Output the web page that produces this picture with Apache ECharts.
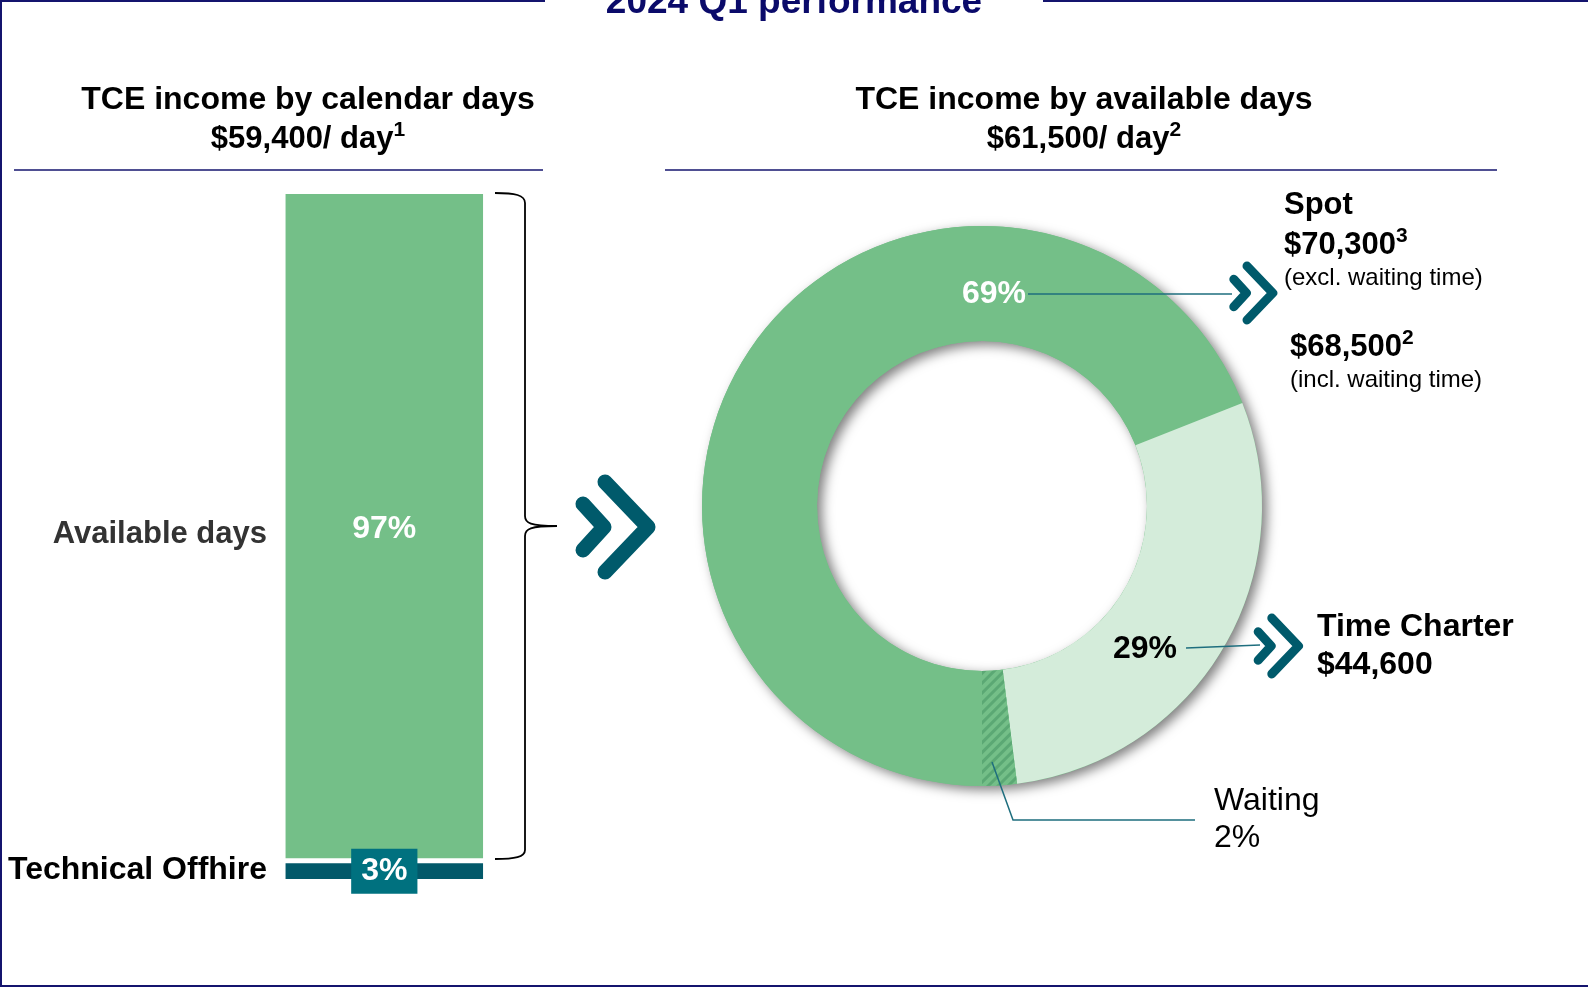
<!DOCTYPE html>
<html>
<head>
<meta charset="utf-8">
<title>2024 Q1 performance</title>
<script src="https://cdn.jsdelivr.net/npm/echarts@6/dist/echarts.min.js"></script>
<style>
    html, body { margin: 0; padding: 0; background: #fff; }
    #chart { width: 1588px; height: 987px; }
</style>
</head>
<body>
<div id="chart"></div>
<script>
// Chart data
const barCategories = ['Available days', 'Technical Offhire'];
const availableShare = [97];
const offhireShare = [3];
const donutNames = ['Spot', 'Time Charter', 'Waiting'];
const donutShares = [69, 29, 2];
const tcePerDay = [59400, 61500];      // calendar days, available days
const spotRates = [70300, 68500];      // excl. / incl. waiting time
const timeCharterRate = [44600];

const GREEN = '#74BF88';
const LIGHT_GREEN = '#D4ECDA';
const TEAL = '#005A6B';
const NAVY = '#14146E';
const FONT = '"Liberation Sans", Arial, sans-serif';

// Format number with commas
function money(num) {
    return '$' + num.toString().replace(/\B(?=(\d{3})+(?!\d))/g, ',');
}

// Text helper for graphic elements
function text(x, y, str, opts) {
    return {
        type: 'text', x: x, y: y, z: 100, silent: true,
        style: Object.assign({
            text: str, font: 'bold 32px ' + FONT, fill: '#000',
            align: 'left', verticalAlign: 'middle'
        }, opts || {})
    };
}

// Rich text with a superscript footnote
function supText(x, y, main, note, size, align) {
    return {
        type: 'text', x: x, y: y, z: 100, silent: true,
        style: {
            text: '{m|' + main + '}{s|' + note + '}',
            align: align, verticalAlign: 'middle',
            rich: {
                m: { fontFamily: FONT, fontWeight: 'bold', fontSize: size, lineHeight: size + 4, fill: '#000', verticalAlign: 'bottom' },
                s: { fontFamily: FONT, fontWeight: 'bold', fontSize: Math.round(size * 0.68), lineHeight: size + 4, fill: '#000', verticalAlign: 'top' }
            }
        }
    };
}

function line(points, color, width) {
    return {
        type: 'polyline', z: 100, silent: true,
        shape: { points: points },
        style: { stroke: color, lineWidth: width, fill: null }
    };
}

function curve(p1, c1, c2, p2) {
    return {
        type: 'bezierCurve', z: 100, silent: true,
        shape: { x1: p1[0], y1: p1[1], cpx1: c1[0], cpy1: c1[1], cpx2: c2[0], cpy2: c2[1], x2: p2[0], y2: p2[1] },
        style: { stroke: '#000', lineWidth: 1.8, fill: null }
    };
}

// Double chevron arrow
function chevron(cx, cy, s, w) {
    const first = [[-32, -23], [-11, 0], [-32, 23]];
    const second = [[-10, -45], [33, 0], [-10, 45]];
    return [first, second].map(p => ({
        type: 'polyline', z: 100, silent: true,
        shape: { points: p.map(([x, y]) => [cx + x * s, cy + y * s]) },
        style: { stroke: TEAL, lineWidth: w, lineCap: 'round', lineJoin: 'round', fill: null }
    }));
}

const chart = echarts.init(document.getElementById('chart'));

const donutData = donutNames.map((name, i) => {
    const item = { name: name, value: donutShares[i], itemStyle: { color: [GREEN, LIGHT_GREEN, GREEN][i] } };
    if (name === 'Waiting') {
        item.itemStyle.decal = {
            symbol: 'rect', symbolSize: 1, color: 'rgba(60,140,90,0.45)',
            dashArrayX: [1, 0], dashArrayY: [3, 4], rotation: -Math.PI / 4
        };
    }
    return item;
});

const graphics = [
    // frame
    line([[0, 1], [545, 1]], NAVY, 2),
    line([[1043, 1], [1588, 1]], NAVY, 2),
    line([[1, 0], [1, 987]], NAVY, 2),
    line([[0, 986], [1588, 986]], NAVY, 2),
    text(794, 3, '2024 Q1 performance', { font: 'bold 37px ' + FONT, fill: '#0A0A6A', align: 'center' }),

    // headers
    text(308, 100, 'TCE income by calendar days', { align: 'center' }),
    supText(308, 137, money(tcePerDay[0]) + '/ day', '1', 31, 'center'),
    text(1084, 100, 'TCE income by available days', { align: 'center' }),
    supText(1084, 137, money(tcePerDay[1]) + '/ day', '2', 31, 'center'),
    line([[14, 170], [543, 170]], NAVY, 1.5),
    line([[665, 170], [1497, 170]], NAVY, 1.5),

    // bar category labels
    text(267, 534, barCategories[0], { font: 'bold 31px ' + FONT, fill: '#333', align: 'right' }),
    text(267, 870, barCategories[1], { font: 'bold 32px ' + FONT, fill: '#000', align: 'right' }),

    // brace
    curve([495, 193], [515, 193], [525, 195], [525, 203]),
    line([[525, 203], [525, 516]], '#000', 1.8),
    curve([525, 516], [525, 523], [530, 526], [557, 526]),
    curve([557, 526], [530, 526], [525, 529], [525, 536]),
    line([[525, 536], [525, 850]], '#000', 1.8),
    curve([525, 850], [525, 857], [515, 859], [495, 859]),
    ...chevron(615, 527, 1, 15),

    // donut labels
    text(994, 294, donutShares[0] + '%', { fill: '#fff', align: 'center' }),
    line([[1028, 294], [1232, 294]], '#1E6E7E', 1.5),
    ...chevron(1253, 293, 0.6, 9),
    text(1284, 205, donutNames[0], { font: 'bold 31px ' + FONT }),
    supText(1284, 243, money(spotRates[0]), '3', 31, 'left'),
    text(1284, 278, '(excl. waiting time)', { font: '24px ' + FONT }),
    supText(1290, 345, money(spotRates[1]), '2', 31, 'left'),
    text(1290, 380, '(incl. waiting time)', { font: '24px ' + FONT }),

    text(1145, 649, donutShares[1] + '%', { align: 'center' }),
    line([[1186, 648], [1260, 645]], '#1E6E7E', 1.5),
    ...chevron(1278, 646, 0.62, 9),
    text(1317, 627, donutNames[1], { font: 'bold 32px ' + FONT }),
    text(1317, 665, money(timeCharterRate[0]), { font: 'bold 32px ' + FONT }),

    line([[992, 762], [1013, 820], [1195, 820]], '#1E6E7E', 1.5),
    text(1214, 801, donutNames[2], { font: '32px ' + FONT }),
    text(1214, 838, donutShares[2] + '%', { font: '32px ' + FONT })
];

const option = {
    animation: false,
    backgroundColor: '#fff',
    grid: { left: 281.3, top: 191.5, width: 206, height: 690 },
    xAxis: { type: 'category', data: ['Q1 2024'], show: false },
    yAxis: { type: 'value', min: 0, max: 100, show: false },
    series: [
        {
            name: barCategories[1], type: 'bar', stack: 'days', data: offhireShare,
            barWidth: 202.5, silent: true,
            itemStyle: { color: '#02596A', borderColor: '#fff', borderWidth: 2.5 },
            label: {
                show: true, position: 'inside', formatter: '{c}%',
                color: '#fff', fontFamily: FONT, fontWeight: 'bold', fontSize: 32,
                backgroundColor: '#00717F', padding: [7, 10, 6, 10], lineHeight: 32
            }
        },
        {
            name: barCategories[0], type: 'bar', stack: 'days', data: availableShare,
            barWidth: 202.5, silent: true,
            itemStyle: { color: GREEN, borderColor: '#fff', borderWidth: 2.5 },
            label: {
                show: true, position: 'inside', formatter: '{c}%', offset: [0, 3],
                color: '#fff', fontFamily: FONT, fontWeight: 'bold', fontSize: 32
            }
        },
        {
            // ring underneath that carries the drop shadow
            type: 'pie', center: [982, 506], radius: [165, 280], silent: true,
            label: { show: false }, labelLine: { show: false },
            data: [{ value: donutShares.reduce((a, b) => a + b, 0) }],
            itemStyle: {
                color: GREEN, shadowBlur: 12, shadowColor: 'rgba(0,0,0,0.5)',
                shadowOffsetX: 5, shadowOffsetY: 4
            }
        },
        {
            type: 'pie', center: [982, 506], radius: [165, 280], silent: true,
            startAngle: 270, clockwise: true,
            label: { show: false }, labelLine: { show: false },
            data: donutData
        }
    ],
    graphic: graphics
};

chart.setOption(option);
</script>
</body>
</html>
